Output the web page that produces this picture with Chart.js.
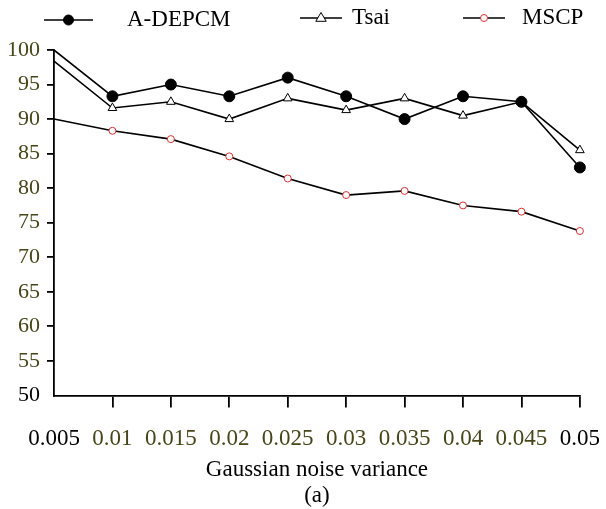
<!DOCTYPE html>
<html>
<head>
<meta charset="utf-8">
<script src="https://cdn.jsdelivr.net/npm/chart.js@4/dist/chart.umd.min.js"></script>
<style>
  html, body { margin: 0; padding: 0; overflow: hidden; background: #fff; }
  canvas { display: block; }
</style>
</head>
<body>
<canvas id="noiseChart" width="606" height="509"></canvas>
<script>
var noiseLabels = ['0.005', '0.01', '0.015', '0.02', '0.025', '0.03', '0.035', '0.04', '0.045', '0.05'];
var adepcmVals = [100, 93.3, 95.0, 93.3, 96.0, 93.3, 90.0, 93.3, 92.5, 83.0];
var tsaiVals   = [98.4, 91.6, 92.5, 90.0, 93.0, 91.3, 93.0, 90.5, 92.5, 85.5];
var mscpVals   = [90.0, 88.3, 87.1, 84.6, 81.4, 79.0, 79.6, 77.5, 76.6, 73.8];

var olive = '#46461a';
var serif = "'Liberation Serif', 'Times New Roman', serif";

// no marker on the first point of each line
function skipFirst(r) {
  return function (c) { return c.dataIndex === 0 ? 0 : r; };
}

// legend: short line with the marker in the middle, then the name
var lineLegend = {
  id: 'lineLegend',
  afterDraw: function (chart) {
    var ctx = chart.ctx;
    var items = [
      { x1: 44, x2: 93, y: 20, tx: 127, ds: 0 },
      { x1: 300, x2: 342, y: 18, tx: 352, ds: 1 },
      { x1: 463, x2: 505, y: 18, tx: 522, ds: 2 }
    ];
    ctx.save();
    items.forEach(function (it) {
      var ds = chart.data.datasets[it.ds];
      ctx.strokeStyle = '#000';
      ctx.lineWidth = 1.6;
      ctx.beginPath();
      ctx.moveTo(it.x1, it.y);
      ctx.lineTo(it.x2, it.y);
      ctx.stroke();
      var mx = (it.x1 + it.x2) / 2;
      ctx.fillStyle = ds.pointBackgroundColor;
      ctx.strokeStyle = ds.pointBorderColor;
      ctx.lineWidth = 1;
      ctx.beginPath();
      if (ds.pointStyle === 'triangle') {
        var r = 5.5;
        ctx.moveTo(mx, it.y - r);
        ctx.lineTo(mx + r * 0.95, it.y + r * 0.6);
        ctx.lineTo(mx - r * 0.95, it.y + r * 0.6);
        ctx.closePath();
      } else {
        var rr = it.ds === 0 ? 5 : 3.5;
        ctx.arc(mx, it.y, rr, 0, Math.PI * 2);
      }
      ctx.fill();
      ctx.stroke();
      ctx.fillStyle = '#000';
      ctx.font = '23px ' + serif;
      ctx.textBaseline = 'middle';
      ctx.textAlign = 'left';
      ctx.fillText(ds.label, it.tx, it.y);
    });
    ctx.restore();
  }
};

function makeChart() {
  var ctx = document.getElementById('noiseChart');
  var config = {
    type: 'line',
    data: {
      labels: noiseLabels,
      datasets: [
        {
          label: 'A-DEPCM',
          data: adepcmVals,
          borderColor: '#000',
          borderWidth: 1.6,
          pointStyle: 'circle',
          pointRadius: skipFirst(5.5),
          pointBackgroundColor: '#000',
          pointBorderColor: '#000',
          pointBorderWidth: 1,
          fill: false,
          tension: 0
        },
        {
          label: 'Tsai',
          data: tsaiVals,
          borderColor: '#000',
          borderWidth: 1.6,
          pointStyle: 'triangle',
          pointRadius: skipFirst(5),
          pointBackgroundColor: '#fff',
          pointBorderColor: '#000',
          pointBorderWidth: 1,
          fill: false,
          tension: 0
        },
        {
          label: 'MSCP',
          data: mscpVals,
          borderColor: '#000',
          borderWidth: 1.6,
          pointStyle: 'circle',
          pointRadius: skipFirst(3.5),
          pointBackgroundColor: '#fff',
          pointBorderColor: '#d83030',
          pointBorderWidth: 1,
          fill: false,
          tension: 0
        }
      ]
    },
    options: {
      responsive: false,
      animation: false,
      layout: { padding: { top: 50, left: 0, right: 26, bottom: 0 } },
      plugins: {
        legend: { display: false },
        tooltip: { enabled: false }
      },
      scales: {
        x: {
          offset: false,
          border: { display: true, color: '#000', width: 1.8 },
          grid: {
            drawOnChartArea: false,
            drawTicks: true,
            tickLength: 12,
            lineWidth: 1.8,
            color: function (c) { return c.index === 0 ? 'rgba(0,0,0,0)' : '#000'; }
          },
          ticks: {
            // small padding keeps the right edge free; a tall line box pushes the labels down
            padding: 6,
            maxRotation: 0,
            autoSkip: false,
            font: { family: serif, size: 23, lineHeight: 2.2 },
            color: function (c) {
              return (c.index === 0 || c.index === noiseLabels.length - 1) ? '#000' : olive;
            }
          },
          title: {
            display: true,
            text: ['Gaussian noise variance', '(a)'],
            color: '#000',
            font: { family: serif, size: 23, lineHeight: 1.13 },
            padding: { top: -13, bottom: 0 }
          }
        },
        y: {
          min: 50,
          max: 100,
          border: { display: true, color: '#000', width: 1.8 },
          grid: {
            drawOnChartArea: false,
            drawTicks: true,
            tickLength: 7,
            lineWidth: 1.8,
            color: function (c) { return c.tick && c.tick.value === 50 ? 'rgba(0,0,0,0)' : '#000'; }
          },
          ticks: {
            stepSize: 5,
            padding: 7,
            font: { family: serif, size: 22 },
            color: function (c) { return c.tick.value === 50 ? '#000' : olive; }
          }
        }
      }
    },
    plugins: [lineLegend]
  };
  return new Chart(ctx, config);
}

var myChart;
var ready = (document.fonts && document.fonts.load)
  ? Promise.all([
      document.fonts.load("23px 'Liberation Serif'"),
      document.fonts.load("22px 'Liberation Serif'")
    ]).catch(function () {})
  : Promise.resolve();
ready.then(function () { myChart = makeChart(); });
</script>
</body>
</html>
